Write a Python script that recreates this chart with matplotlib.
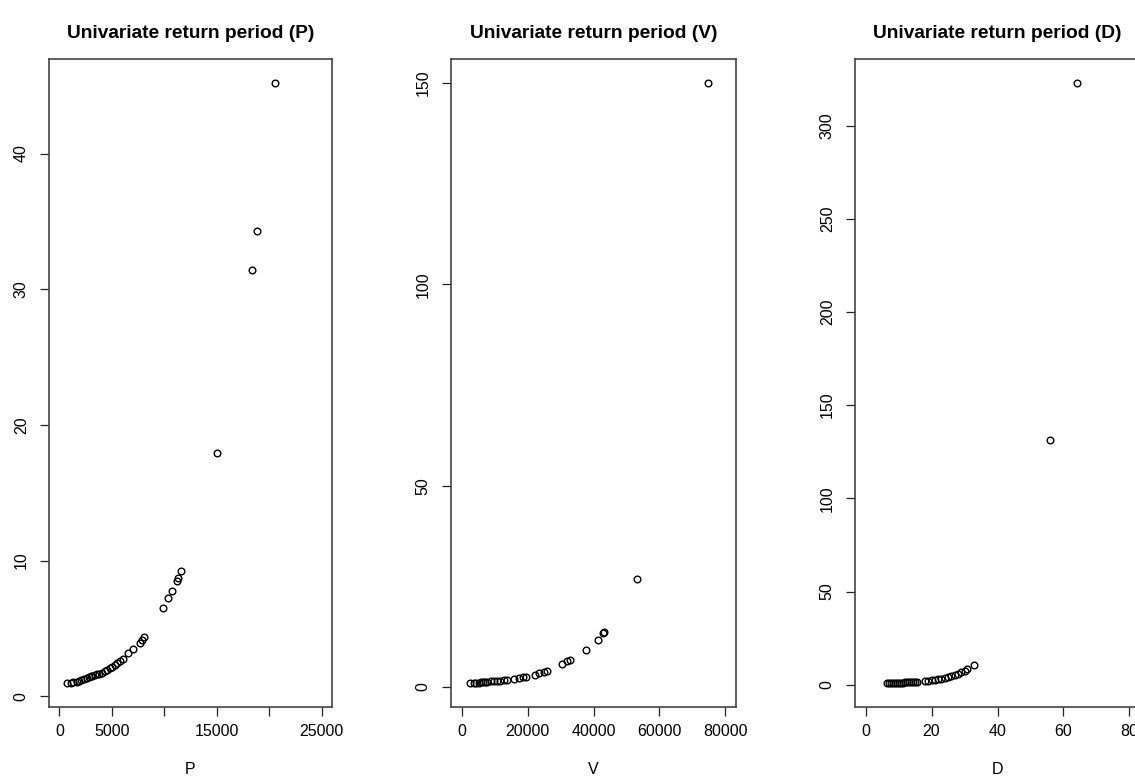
import numpy as np
import matplotlib.pyplot as plt

plt.rcParams["font.family"] = ["Liberation Sans", "DejaVu Sans"]

# return period vs peak flow
P = [760, 1070, 1300, 1640, 1900, 2090, 2350, 2590, 2800, 3000, 3130, 3350,
     3610, 3800, 4080, 4300, 4560, 4800, 5030, 5250, 5510, 5800, 6080, 6580,
     6990, 7660, 7850, 8040, 9840, 10350, 10730, 11200, 11260, 11550, 15060,
     18330, 18800, 20570]
T_P = [0.98, 1.00, 1.04, 1.08, 1.15, 1.23, 1.28, 1.35, 1.42, 1.47, 1.50, 1.56,
       1.62, 1.68, 1.75, 1.84, 1.94, 2.05, 2.16, 2.29, 2.43, 2.60, 2.78, 3.17,
       3.46, 3.95, 4.15, 4.35, 6.48, 7.22, 7.76, 8.50, 8.70, 9.20, 17.9,
       31.4, 34.3, 45.2]

# return period vs volume
V = [2700, 3700, 4500, 5200, 5800, 6500, 7100, 7800, 8800, 9800, 10800, 11800,
     12800, 13900, 15900, 17400, 18500, 19600, 22400, 23500, 25000, 25800,
     30400, 31900, 33000, 37600, 41500, 43000, 43300, 53300, 74700]
T_V = [1.0, 1.0, 1.05, 1.1, 1.15, 1.2, 1.25, 1.3, 1.4, 1.5, 1.55, 1.6,
       1.7, 1.8, 2.0, 2.2, 2.4, 2.6, 3.1, 3.5, 3.8, 4.1,
       5.6, 6.4, 6.8, 9.1, 11.6, 13.3, 13.66, 26.8, 150.0]

# return period vs duration
D = [6.6, 7.2, 7.8, 8.4, 9.0, 9.6, 10.2, 10.8, 11.4, 12.0, 12.6, 13.2, 13.8,
     14.4, 15.0, 15.6, 18.0, 19.0, 20.0, 21.0, 22.0, 23.0, 24.0, 25.0, 26.0,
     27.0, 28.0, 29.0, 30.0, 30.8, 33.0, 56.0, 64.0]
T_D = [0.95, 1.0, 1.0, 1.05, 1.1, 1.1, 1.15, 1.2, 1.2, 1.25, 1.3, 1.35, 1.4,
       1.45, 1.5, 1.6, 2.0, 2.2, 2.5, 2.7, 3.0, 3.3, 3.7, 4.1, 4.6,
       5.2, 5.8, 6.6, 7.5, 8.4, 10.7, 131.4, 322.8]

panels = [
    ("P", P, T_P, (0, 25000), [0, 5000, 10000, 15000, 20000, 25000],
     ["0", "5000", "", "15000", "", "25000"], [0, 10, 20, 30, 40]),
    ("V", V, T_V, (0, 80000), [0, 20000, 40000, 60000, 80000],
     ["0", "20000", "40000", "60000", "80000"], [0, 50, 100, 150]),
    ("D", D, T_D, (0, 80), [0, 20, 40, 60, 80],
     ["0", "20", "40", "60", "80"], [0, 50, 100, 150, 200, 250, 300]),
]

W, H = 1135, 781
boxes = [(49, 332), (451, 736), (855, 1140)]
top, bottom = 59, 707

fig = plt.figure(figsize=(W / 100, H / 100), dpi=100)

for (name, x, y, xr, xt, xtl, yt), (l, r) in zip(panels, boxes):
    ax = fig.add_axes([l / W, 1 - bottom / H, (r - l) / W, (bottom - top) / H])
    ax.plot(x, y, "o", mfc="none", mec="black", ms=4.8, mew=1.0)

    pad = 0.04 * (xr[1] - xr[0])
    ax.set_xlim(xr[0] - pad, xr[1] + pad)
    ylo, yhi = min(y), max(y)
    ypad = 0.04 * (yhi - ylo)
    ax.set_ylim(ylo - ypad, yhi + ypad)

    ax.set_xticks(xt)
    ax.set_xticklabels(xtl)
    ax.set_yticks(yt)
    ax.set_yticklabels([str(v) for v in yt], rotation=90, va="center")
    ax.tick_params(axis="both", direction="out", length=6.5, width=0.9,
                   color="#222222", labelsize=11.5)
    ax.tick_params(axis="x", pad=6)
    ax.tick_params(axis="y", pad=8)
    for s in ax.spines.values():
        s.set_color("#444444")
        s.set_linewidth(1.2)

    ax.set_xlabel(name, fontsize=11.5, labelpad=16)
    cx = (l + r) / 2 / W
    fig.text(cx, 1 - 33 / H, f"Univariate return period ({name})",
             ha="center", va="center", fontsize=13.8, fontweight="bold")

fig.savefig("out.png", dpi=100, facecolor="white")
